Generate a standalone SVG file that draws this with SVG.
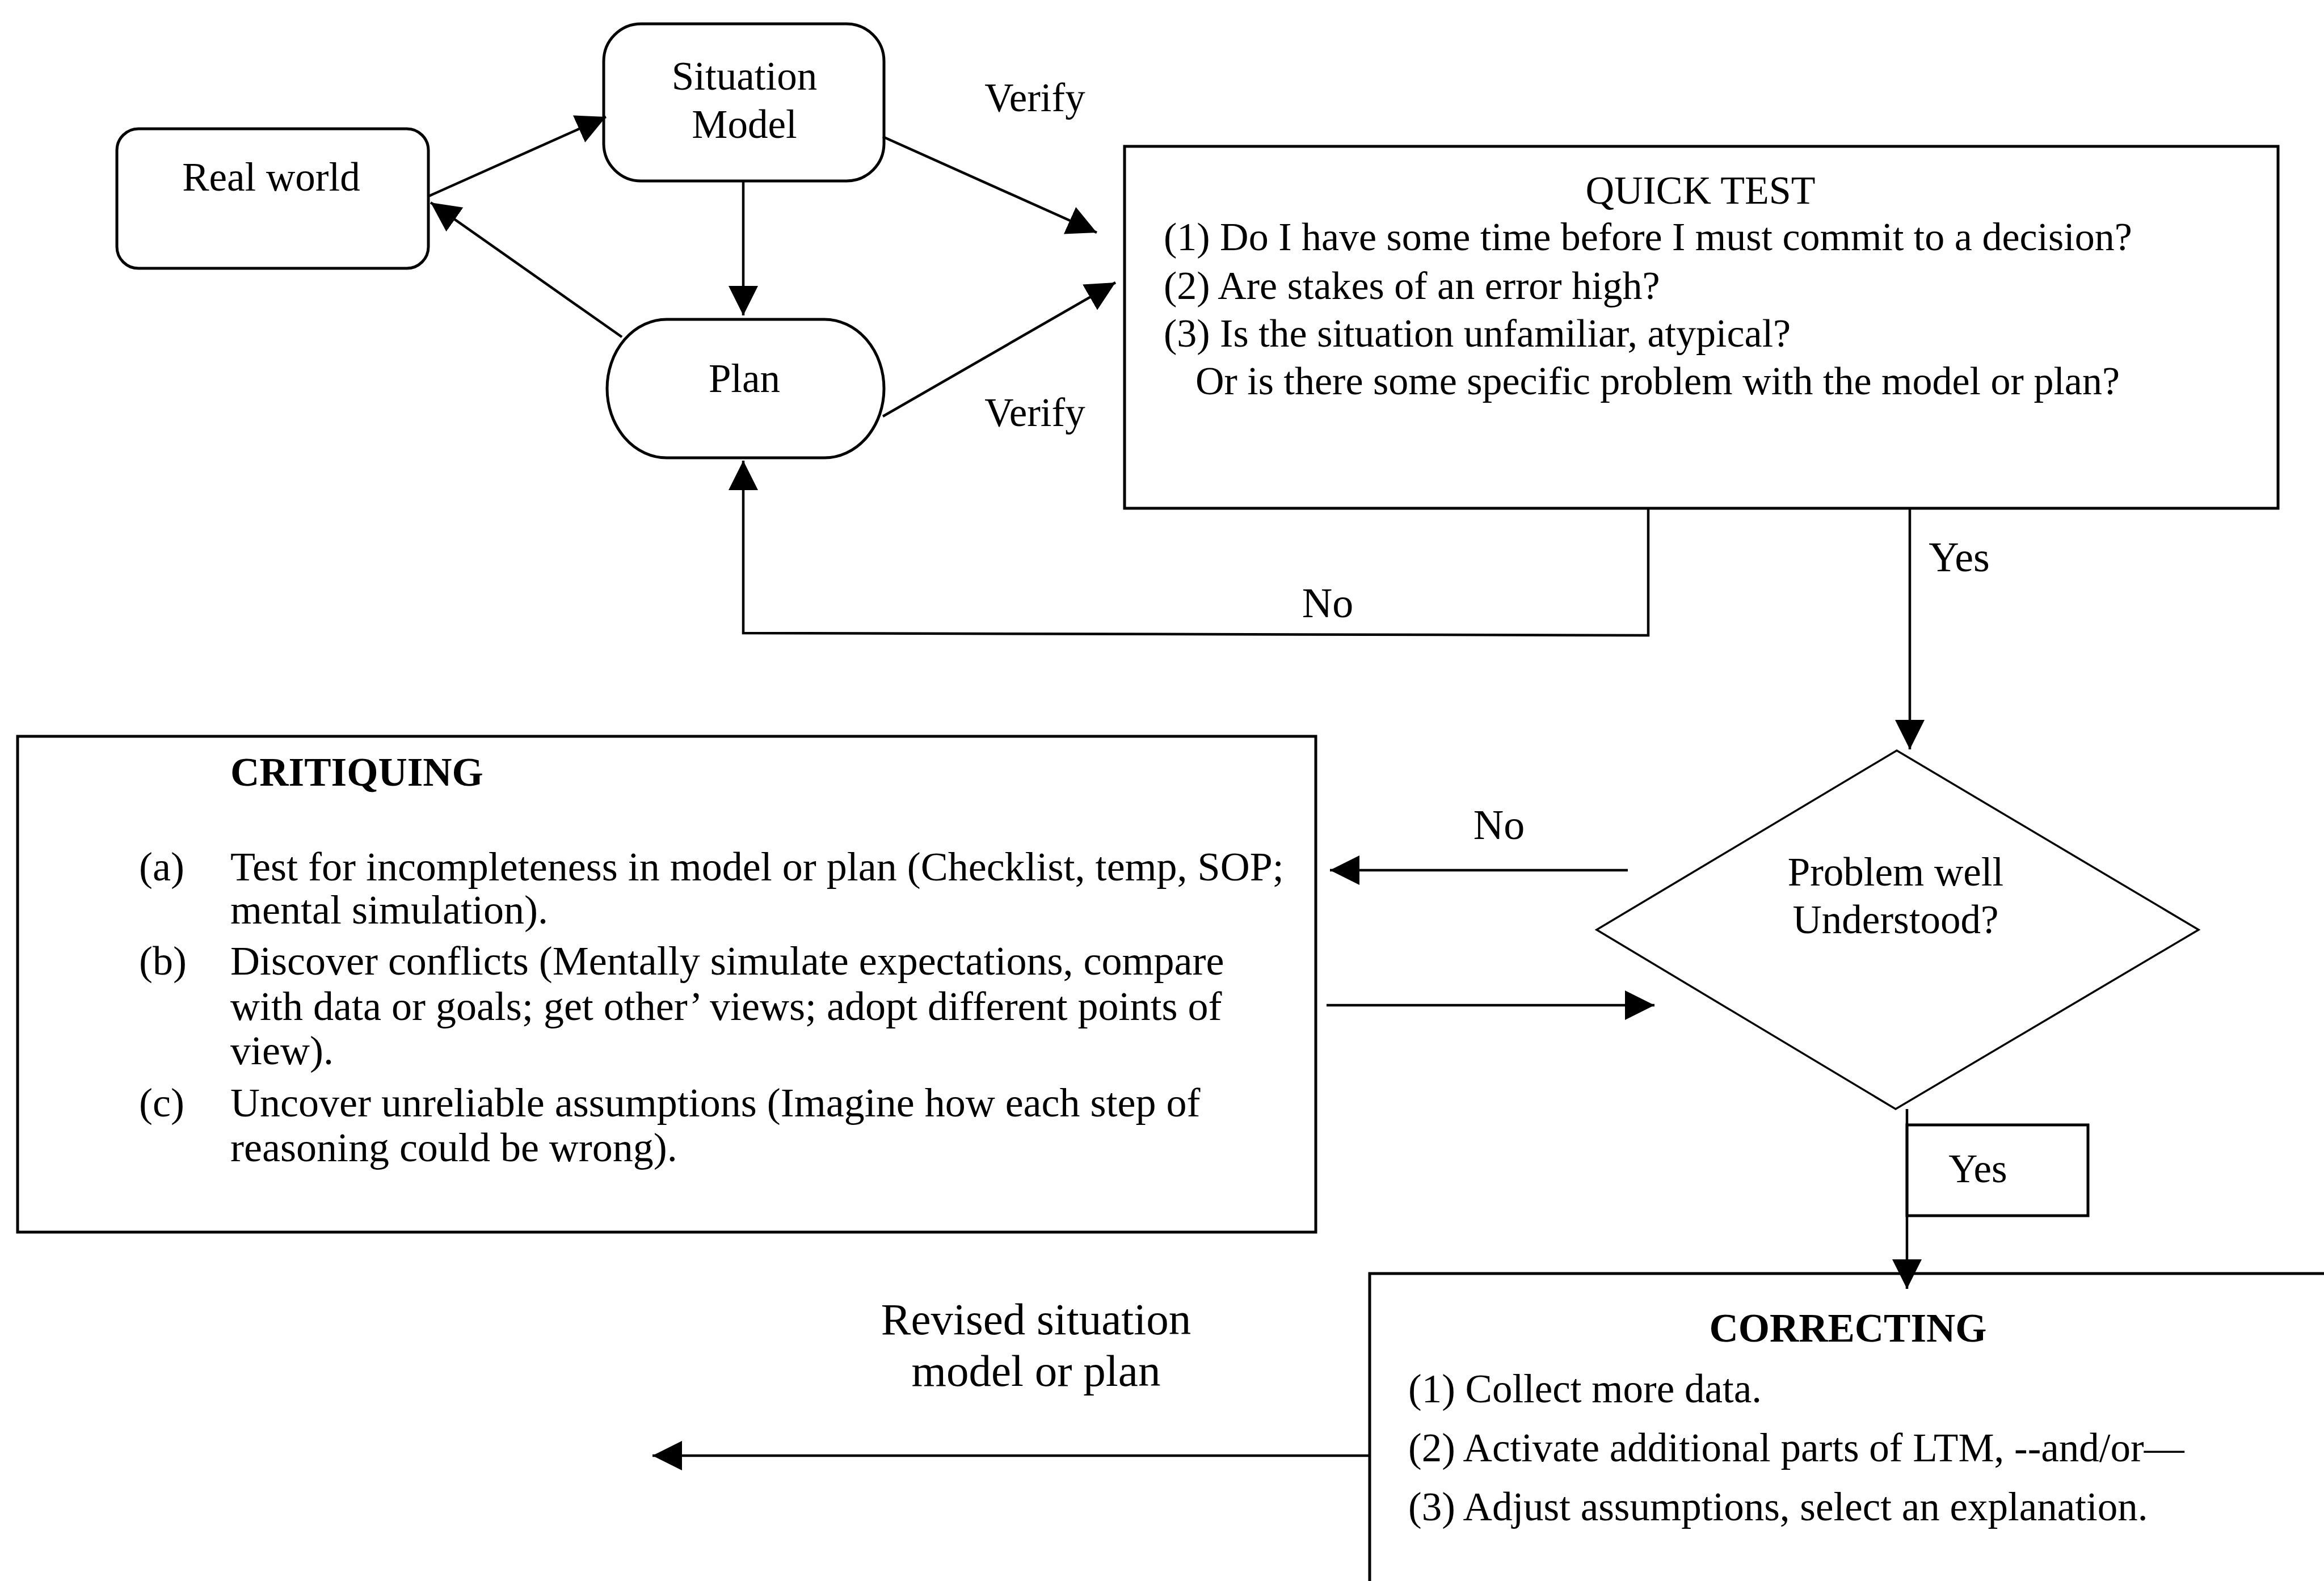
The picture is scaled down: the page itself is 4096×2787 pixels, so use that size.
<svg xmlns="http://www.w3.org/2000/svg" width="4096" height="2787" viewBox="0 0 4096 2787">
  <style>
    .box { fill: #ffffff; stroke: #000000; stroke-width: 5; }
    .thin { fill: none; stroke: #000000; stroke-width: 3.5; }
    .wire { fill: none; stroke: #000000; stroke-width: 4.5; marker-end: url(#arrow); }
    text { font-family: "Liberation Serif", "Times New Roman", serif; font-size: 71px; fill: #000000; }
    .c { text-anchor: middle; }
    .b { font-weight: bold; }
    .lbl { font-size: 74px; }
    .big { font-size: 79px; }
    .qt { font-size: 70px; }
    .cr { font-size: 72px; }
  </style>
  <defs>
    <marker id="arrow" markerUnits="userSpaceOnUse" markerWidth="54" markerHeight="54" refX="52" refY="26" orient="auto">
      <path d="M0,0 L52,26 L0,52 z" fill="#000000"/>
    </marker>
  </defs>
  <rect x="0" y="0" width="4096" height="2787" fill="#ffffff"/>

  <g id="real-world">
    <rect class="box" x="206" y="227" width="549" height="246" rx="38" ry="38"/>
    <text class="c" x="478" y="336">Real world</text>
  </g>

  <g id="situation-model">
    <rect class="box" x="1064" y="42" width="494" height="277" rx="66" ry="66"/>
    <text class="c" x="1312" y="158">Situation</text>
    <text class="c" x="1312" y="243">Model</text>
  </g>

  <g id="plan">
    <rect class="box" x="1070" y="563" width="488" height="244" rx="105" ry="122"/>
    <text class="c" x="1312" y="691">Plan</text>
  </g>

  <g id="quick-test">
    <rect class="box" x="1982" y="258" width="2033" height="638"/>
    <text class="c qt" x="2997" y="359">QUICK TEST</text>
    <text class="qt" x="2051" y="441">(1) Do I have some time before I must commit to a decision?</text>
    <text class="qt" x="2051" y="527">(2) Are stakes of an error high?</text>
    <text class="qt" x="2051" y="611">(3) Is the situation unfamiliar, atypical?</text>
    <text class="qt" x="2107" y="695">Or is there some specific problem with the model or plan?</text>
  </g>

  <g id="problem-understood">
    <polygon class="thin" points="3343,1323 3875,1639 3341,1955 2814,1639" fill="#ffffff"/>
    <text class="c" x="3341" y="1561" font-size="69">Problem well</text>
    <text class="c" x="3341" y="1645" font-size="69">Understood?</text>
  </g>

  <g id="critiquing">
    <rect class="box" x="31" y="1298" width="2288" height="874"/>
    <text class="b" x="406" y="1385" font-size="72">CRITIQUING</text>
    <text class="cr" x="245" y="1552">(a)</text>
    <text class="cr" x="406" y="1552">Test for incompleteness in model or plan (Checklist, temp, SOP;</text>
    <text class="cr" x="406" y="1628">mental simulation).</text>
    <text class="cr" x="245" y="1718">(b)</text>
    <text class="cr" x="406" y="1718">Discover conflicts (Mentally simulate expectations, compare</text>
    <text class="cr" x="406" y="1798">with data or goals; get other’ views; adopt different points of</text>
    <text class="cr" x="406" y="1876">view).</text>
    <text class="cr" x="245" y="1968">(c)</text>
    <text class="cr" x="406" y="1968">Uncover unreliable assumptions (Imagine how each step of</text>
    <text class="cr" x="406" y="2047">reasoning could be wrong).</text>
  </g>

  <g id="yes-tag">
    <rect class="box" x="3361" y="1983" width="319" height="160" fill="none"/>
    <text class="c" x="3486" y="2084" font-size="68">Yes</text>
  </g>

  <g id="correcting">
    <rect class="box" x="2414" y="2245" width="1720" height="600"/>
    <text class="c b" x="3257" y="2365" font-size="70">CORRECTING</text>
    <text x="2482" y="2472">(1) Collect more data.</text>
    <text x="2482" y="2576">(2) Activate additional parts of LTM, --and/or—</text>
    <text x="2482" y="2680">(3) Adjust assumptions, select an explanation.</text>
  </g>

  <!-- connectors, drawn last so arrowheads sit on top of box outlines -->
  <g id="connectors">
    <line class="wire" x1="755" y1="346" x2="1068" y2="206"/>
    <line class="wire" x1="1096" y1="594" x2="759" y2="357"/>
    <line class="wire" x1="1310" y1="319" x2="1310" y2="556"/>
    <line class="wire" x1="1556" y1="241" x2="1933" y2="410"/>
    <line class="wire" x1="1556" y1="734" x2="1966" y2="498"/>
    <polyline class="wire" points="2905,898 2905,1120 1310,1116 1310,812"/>
    <line class="wire" x1="3366" y1="898" x2="3366" y2="1321"/>
    <line class="wire" x1="2869" y1="1534" x2="2344" y2="1534"/>
    <line class="wire" x1="2338" y1="1772" x2="2916" y2="1772"/>
    <line class="wire" x1="3361" y1="1955" x2="3361" y2="2272"/>
    <line class="wire" x1="2414" y1="2566" x2="1150" y2="2566"/>
  </g>

  <!-- edge labels -->
  <g id="edge-labels">
    <text class="c" x="1824" y="196">Verify</text>
    <text class="c" x="1824" y="751">Verify</text>
    <text class="c lbl" x="2340" y="1088">No</text>
    <text class="c lbl" x="3453" y="1007">Yes</text>
    <text class="c lbl" x="2642" y="1479">No</text>
    <text class="c big" x="1826" y="2352">Revised situation</text>
    <text class="c big" x="1826" y="2443">model or plan</text>
  </g>
</svg>
